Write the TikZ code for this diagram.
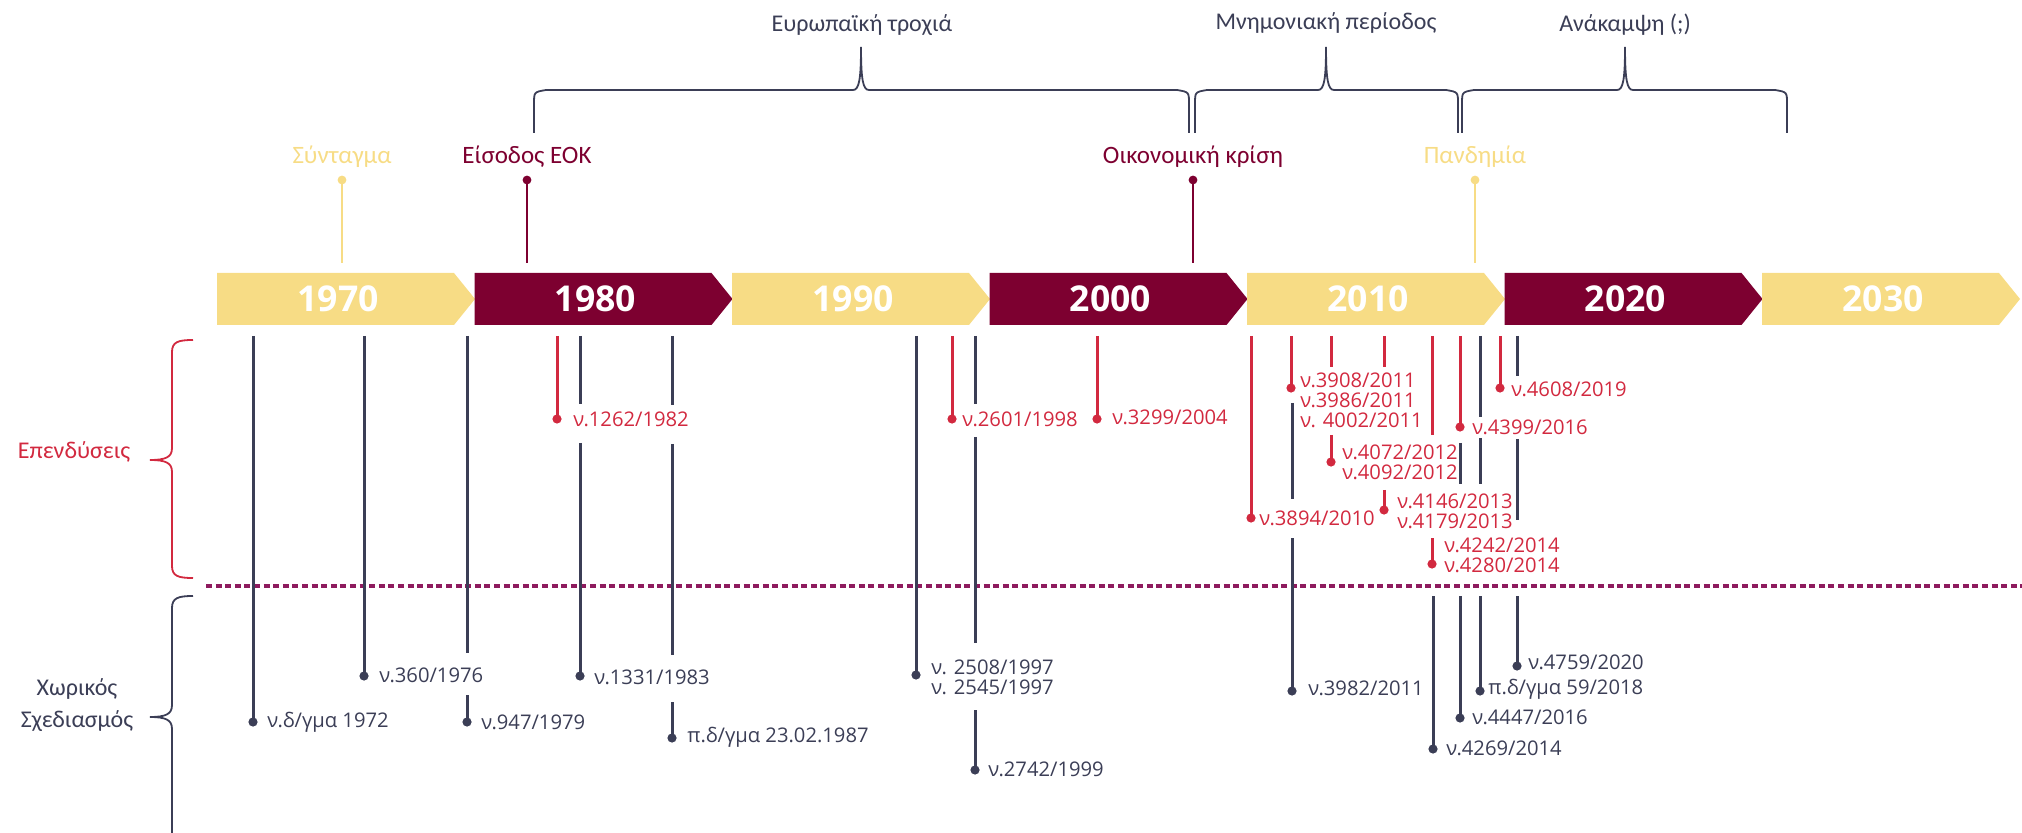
\documentclass[tikz,border=0pt]{standalone}
\usepackage{fontspec}
\setmainfont{Open Sans}
\newfontfamily\condfont{Carlito}
\usepackage{tikz}
\usetikzlibrary{calc}
\definecolor{gold}{HTML}{F7DC85}
\definecolor{wine}{HTML}{7D0030}
\definecolor{slate}{HTML}{3B3E56}
\definecolor{crimson}{HTML}{D2293F}
\definecolor{plum}{HTML}{8E1B5E}
\tikzset{
  law/.style={line width=1.5pt},
  lawtxt/.style={anchor=west,inner sep=0pt,align=left,font=\fontsize{10.1}{10}\selectfont},
  evtxt/.style={font=\condfont\fontsize{12}{14}\selectfont},
  yeartxt/.style={font=\bfseries\fontsize{17.8}{20}\selectfont,text=white},
}

\begin{document}
\begin{tikzpicture}[x=0.5pt,y=-0.5pt]
\useasboundingbox (0,0) rectangle (2022,833);
% decades
\foreach \yr/\i/\c in {1970/0/gold,1980/1/wine,1990/2/gold,2000/3/wine,2010/4/gold,2020/5/wine,2030/6/gold}{
  \fill[\c] ({217+257.5*\i},273) -- ++(237,0) -- ++(21,26) -- ++(-21,26) -- ++(-237,0) -- cycle;
  \node[yeartxt] (y\yr) at ({217+257.5*\i+121},299) {\yr};
}
% periods
\foreach \l/\m/\r in {534/861/1189,1195/1326/1458,1462/1625/1787}{
  \draw[slate,line width=0.9pt] (\l,133) -- (\l,104) .. controls (\l,92) .. ({\l+12},90) -- ({\m-8},90)
    .. controls ({\m-2},90) and (\m,80) .. (\m,47) .. controls (\m,80) and ({\m+2},90) .. ({\m+8},90)
    -- ({\r-12},90) .. controls (\r,92) .. (\r,104) -- (\r,133);
}
\node[evtxt,text=slate] (eu) at (862,25) {Ευρωπαϊκή τροχιά};
\node[evtxt,text=slate] (mn) at (1326,23) {Μνημονιακή περίοδος};
\node[evtxt,text=slate] (an) at (1625,25) {Ανάκαμψη (;)};
% events
\foreach \x/\c/\t/\n in {342/gold/Σύνταγμα/syn,527/wine/Είσοδος ΕΟΚ/eok,1193/wine/Οικονομική κρίση/kri,1475/gold/Πανδημία/pan}{
  \node[evtxt,text=\c,font=\condfont\fontsize{12.5}{14}\selectfont] (\n) at (\x,157) {\t};
  \draw[\c,line width=1.2pt] (\x,180) -- (\x,263);
  \fill[\c] (\x,180) circle (2.2pt);
}
% left groups
\draw[crimson,line width=0.9pt] (193,340) .. controls (178,340) and (172,342) .. (172,352) -- (172,448)
  .. controls (172,457) and (166,460) .. (150,460) .. controls (166,460) and (172,463) .. (172,472)
  -- (172,566) .. controls (172,576) and (178,578) .. (193,578);
\draw[slate,line width=0.9pt] (193,596) .. controls (178,596) and (172,598) .. (172,608) -- (172,705)
  .. controls (172,714) and (166,717) .. (150,717) .. controls (166,717) and (172,720) .. (172,729)
  -- (172,840);
\node[evtxt,text=crimson] (inv) at (74,452) {Επενδύσεις};
\node[evtxt,text=slate,align=center] (plan) at (77,705) {Χωρικός\\[2pt]Σχεδιασμός};
\draw[plum,line width=1.6pt,dash pattern=on 3pt off 1.8pt] (206,586) -- (2022,586);
% laws, planning
\foreach \x/\a/\b in {253/336/722,364/336/676,467/336/653,467/695/722,580/336/404,580/443/676,
  672/336/405,672/444/655,672/702/738,916/336/675,975/336/404,975/437/643,975/710/770,
  1292/403/499,1292/538/691,1433/596/749,1460/443/484,1460/596/718,1480/336/417,1480/438/484,
  1480/596/691,1517/336/376,1517/439/520,1517/596/666}{\draw[law,slate] (\x,\a) -- (\x,\b);}
\foreach \x/\y in {253/722,364/676,467/722,580/676,672/738,916/675,975/770,1292/691,1433/749,
  1460/718,1480/691,1517/666}{\fill[slate] (\x,\y) circle (2.3pt);}
% laws, investment
\foreach \x/\a/\b in {557/336/419,952/336/419,1097/336/419,1251/336/518,1291/336/388,1331/336/367,
  1331/435/462,1384/336/367,1384/490/510,1432/336/435,1432/538/564,1460/336/427,1500/336/388}{\draw[law,crimson] (\x,\a) -- (\x,\b);}
\foreach \x/\y in {557/419,952/419,1097/419,1251/518,1291/388,1331/462,1384/510,1432/564,
  1460/427,1500/388}{\fill[crimson] (\x,\y) circle (2.3pt);}
\node[lawtxt,text=slate] (n1972) at (267,722) {ν.δ/γμα 1972};
\node[lawtxt,text=slate] (n1976) at (379,675) {ν.360/1976};
\node[lawtxt,text=slate] (n1979) at (481,722) {ν.947/1979};
\node[lawtxt,text=slate] (n1983) at (594,677) {ν.1331/1983};
\node[lawtxt,text=slate] (n1987) at (687,737) {π.δ/γμα 23.02.1987};
\node[lawtxt,text=slate] (n1997) at (931,677) {ν. 2508/1997\\ν. 2545/1997};
\node[lawtxt,text=slate] (n1999) at (988,769) {ν.2742/1999};
\node[lawtxt,text=slate] (n2011) at (1308,688) {ν.3982/2011};
\node[lawtxt,text=slate] (n2014) at (1446,748) {ν.4269/2014};
\node[lawtxt,text=slate] (n2016) at (1472,717) {ν.4447/2016};
\node[lawtxt,text=slate] (n2018) at (1488,689) {π.δ/γμα 59/2018};
\node[lawtxt,text=slate] (n2020) at (1528,662) {ν.4759/2020};
\node[lawtxt,text=crimson] (r1982) at (573,419) {ν.1262/1982};
\node[lawtxt,text=crimson] (r1998) at (962,419) {ν.2601/1998};
\node[lawtxt,text=crimson] (r2004) at (1112,417) {ν.3299/2004};
\node[lawtxt,text=crimson] (r2010) at (1259,518) {ν.3894/2010};
\node[lawtxt,text=crimson] (r2011) at (1300,400) {ν.3908/2011\\ν.3986/2011\\ν. 4002/2011};
\node[lawtxt,text=crimson] (r2012) at (1342,462) {ν.4072/2012\\ν.4092/2012};
\node[lawtxt,text=crimson] (r2013) at (1397,511) {ν.4146/2013\\ν.4179/2013};
\node[lawtxt,text=crimson] (r2014) at (1444,555) {ν.4242/2014\\ν.4280/2014};
\node[lawtxt,text=crimson] (r2016) at (1472,427) {ν.4399/2016};
\node[lawtxt,text=crimson] (r2019) at (1511,389) {ν.4608/2019};
\end{tikzpicture}
\end{document}
